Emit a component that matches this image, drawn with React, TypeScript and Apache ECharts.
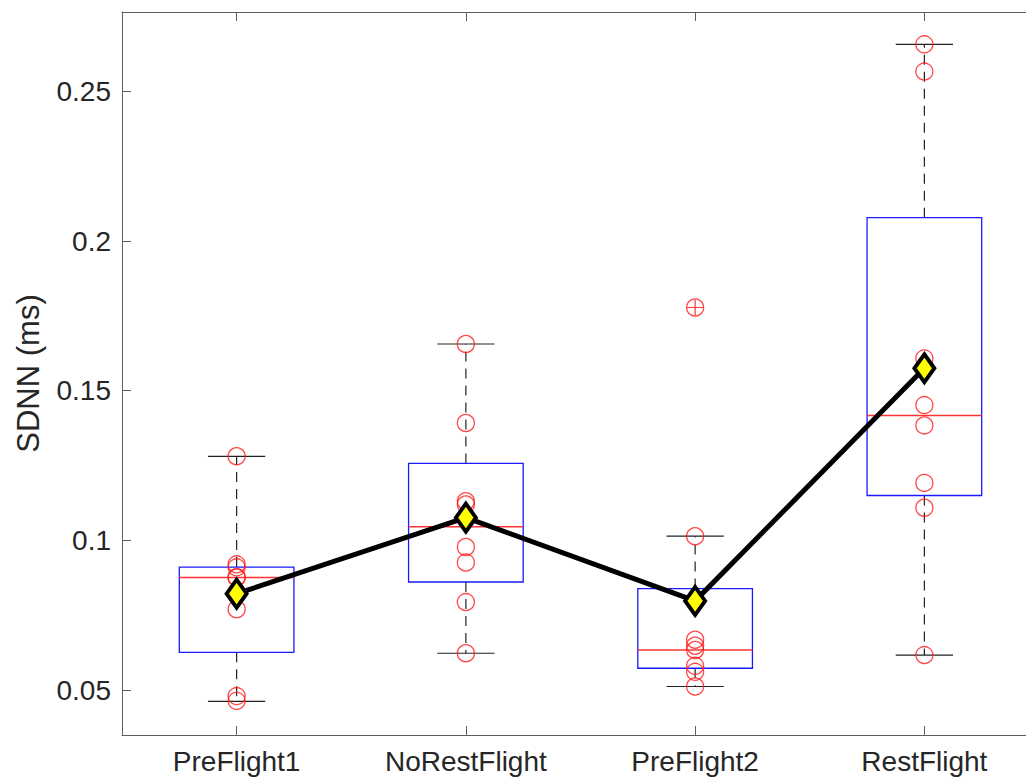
import React, { useEffect, useRef } from "react";
import * as echarts from "echarts";

const categories = ["PreFlight1", "NoRestFlight", "PreFlight2", "RestFlight"];

// Box statistics: lower whisker, Q1, median, Q3, upper whisker
const whiskerLow = [0.0462, 0.0623, 0.0512, 0.0617];
const quartile1 = [0.0626, 0.0861, 0.0573, 0.115];
const medians = [0.0876, 0.1046, 0.0634, 0.1417];
const quartile3 = [0.0911, 0.1257, 0.0839, 0.2078];
const whiskerHigh = [0.1281, 0.1656, 0.1014, 0.2657];

// Outliers (category position 1..4, value)
const outlierCats = [3];
const outlierValues = [0.1778];

// Individual subject values per condition
const preFlight1 = [0.1281, 0.092, 0.091, 0.0877, 0.0876, 0.077, 0.048, 0.0464];
const noRestFlight = [0.1656, 0.1392, 0.1131, 0.112, 0.0978, 0.0926, 0.0794, 0.0623];
const preFlight2 = [0.1778, 0.1014, 0.0668, 0.0648, 0.0634, 0.0581, 0.0561, 0.0512];
const restFlight = [0.2657, 0.2566, 0.1608, 0.1452, 0.1384, 0.1192, 0.1109, 0.0617];

// Means (diamond markers)
const means = [0.0822, 0.1076, 0.0798, 0.1575];

const yAxisName = "SDNN (ms)";

export default function App() {
  const ref = useRef<HTMLDivElement>(null);

  useEffect(() => {
    document.body.style.margin = "0";
    if (!ref.current) return;
    const chart = echarts.init(ref.current, undefined, { renderer: "svg" });

    const groups = [preFlight1, noRestFlight, preFlight2, restFlight];
    const pointData: number[][] = [];
    groups.forEach((g, i) => g.forEach((v) => pointData.push([i + 1, v])));

    const boxData = categories.map((_, i) => [
      i + 1,
      whiskerLow[i],
      quartile1[i],
      medians[i],
      quartile3[i],
      whiskerHigh[i],
    ]);

    const outlierData = outlierCats.map((c, i) => [c, outlierValues[i]]);
    const meanData = means.map((v, i) => [i + 1, v]);

    const axisColor = "#5e5e5e";
    const textColor = "#262626";
    const font = "Liberation Sans, Arial, Helvetica, sans-serif";

    const xCommon = {
      type: "value",
      min: 0.5,
      max: 4.4433,
      minInterval: 1,
      maxInterval: 1,
      axisLine: { show: true, onZero: false, lineStyle: { color: axisColor, width: 1 } },
      axisTick: { show: true, inside: true, length: 9, lineStyle: { color: axisColor } },
      splitLine: { show: false },
    };

    chart.setOption({
      animation: false,
      backgroundColor: "#ffffff",
      grid: { left: 122, top: 12, right: 0, bottom: 48, containLabel: false },
      xAxis: [
        {
          ...xCommon,
          position: "bottom",
          axisLabel: {
            color: textColor,
            fontSize: 28,
            fontFamily: font,
            margin: 12,
            showMinLabel: false,
            showMaxLabel: false,
            formatter: (v: number) => categories[Math.round(v) - 1] ?? "",
          },
        },
        {
          ...xCommon,
          position: "top",
          axisLabel: { show: false },
        },
      ],
      yAxis: {
        type: "value",
        min: 0.035,
        max: 0.2765,
        minInterval: 0.05,
        maxInterval: 0.05,
        name: yAxisName,
        nameLocation: "middle",
        nameGap: 78,
        nameRotate: 90,
        nameTextStyle: { color: textColor, fontSize: 31, fontFamily: font },
        axisLine: { show: true, onZero: false, lineStyle: { color: axisColor, width: 1 } },
        axisTick: { show: true, inside: true, length: 9, lineStyle: { color: axisColor } },
        axisLabel: {
          color: textColor,
          fontSize: 28,
          fontFamily: font,
          margin: 11,
          showMinLabel: false,
          showMaxLabel: false,
        },
        splitLine: { show: false },
      },
      series: [
        {
          type: "custom",
          name: "box",
          data: boxData,
          z: 2,
          renderItem: (params: any, api: any) => {
            const x = api.value(0);
            const band = api.size([1, 0])[0];
            const boxW = band * 0.5;
            const capW = band * 0.25;
            const pLow = api.coord([x, api.value(1)]);
            const pQ1 = api.coord([x, api.value(2)]);
            const pMed = api.coord([x, api.value(3)]);
            const pQ3 = api.coord([x, api.value(4)]);
            const pHigh = api.coord([x, api.value(5)]);
            const cx = pMed[0];
            const whiskerStyle = { stroke: "#222222", lineWidth: 1.2, lineDash: [10, 7], fill: null };
            const capStyle = { stroke: "#222222", lineWidth: 1.2, fill: null };
            return {
              type: "group",
              children: [
                { type: "line", shape: { x1: cx, y1: pQ3[1], x2: cx, y2: pHigh[1] }, style: whiskerStyle },
                { type: "line", shape: { x1: cx, y1: pQ1[1], x2: cx, y2: pLow[1] }, style: whiskerStyle },
                { type: "line", shape: { x1: cx - capW / 2, y1: pHigh[1], x2: cx + capW / 2, y2: pHigh[1] }, style: capStyle },
                { type: "line", shape: { x1: cx - capW / 2, y1: pLow[1], x2: cx + capW / 2, y2: pLow[1] }, style: capStyle },
                {
                  type: "rect",
                  shape: { x: cx - boxW / 2, y: pQ3[1], width: boxW, height: pQ1[1] - pQ3[1] },
                  style: { stroke: "#1a1aff", lineWidth: 1.3, fill: null },
                },
                {
                  type: "line",
                  shape: { x1: cx - boxW / 2, y1: pMed[1], x2: cx + boxW / 2, y2: pMed[1] },
                  style: { stroke: "#ff3333", lineWidth: 1.5 },
                },
              ],
            };
          },
        },
        {
          type: "scatter",
          name: "outliers",
          data: outlierData,
          symbol: "path://M5,0L5,10M0,5L10,5",
          symbolSize: 16,
          z: 3,
          itemStyle: { color: "none", borderColor: "#ff0000", borderWidth: 1.2 },
        },
        {
          type: "scatter",
          name: "subjects",
          data: pointData,
          symbol: "circle",
          symbolSize: 17,
          z: 4,
          itemStyle: { color: "rgba(0,0,0,0)", borderColor: "#ff1a1a", borderWidth: 1.3 },
        },
        {
          type: "line",
          name: "mean",
          data: meanData,
          z: 5,
          symbol: "diamond",
          symbolSize: [20, 28],
          showSymbol: true,
          lineStyle: { color: "#000000", width: 5 },
          itemStyle: { color: "#ffff00", borderColor: "#000000", borderWidth: 4 },
        },
      ],
    });

    return () => chart.dispose();
  }, []);

  return <div ref={ref} style={{ width: 1026, height: 783 }} />;
}
